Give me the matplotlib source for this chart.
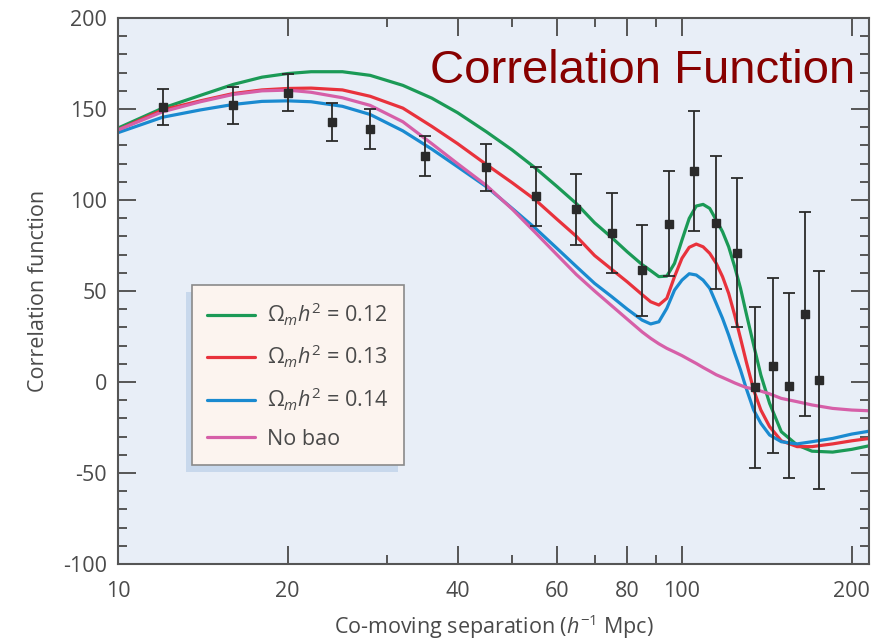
import matplotlib
matplotlib.use('Agg')
import matplotlib.pyplot as plt
from matplotlib.ticker import FixedLocator, NullFormatter

plt.rcParams['font.family'] = ['Open Sans', 'DejaVu Sans']
plt.rcParams['mathtext.fontset'] = 'custom'
plt.rcParams['mathtext.rm'] = 'Open Sans'
plt.rcParams['mathtext.it'] = 'Open Sans:italic'
plt.rcParams['axes.unicode_minus'] = False

# measured points (separation in h^-1 Mpc)
sep = [12, 16, 20, 24, 28, 35, 45, 55, 65, 75, 85, 95, 105, 115, 125, 135, 145, 155, 165, 175]
xi = [151, 152, 159, 143, 139, 124, 118, 102, 95, 82, 61.5, 87, 116, 87.5, 71, -3, 9, -2, 37.5, 1]
xi_err = [10, 10, 10, 10.5, 11, 11, 13, 16, 19.5, 22, 25, 29, 33, 36.5, 41, 44, 48, 51, 56, 60]

# model curves
r_model = [10, 12, 14, 16, 18, 20, 22, 25, 28, 32, 36, 40, 45, 50, 55, 60, 65, 70, 75, 80,
           85, 88, 91, 94, 97, 100, 103, 106, 109, 112, 115, 118, 121, 124, 127, 130, 134,
           138, 143, 150, 160, 170, 185, 200, 215]
xi_012 = [139.5, 150.5, 157.5, 163.5, 167.5, 169.5, 170.5, 170.5, 168.5, 163, 156, 148, 137.5,
          127.5, 117.5, 107.5, 98, 87.5, 79.5, 71.5, 64.5, 61.2, 57.9, 58.2, 65.2, 78, 89.9,
          96.7, 97.6, 95.4, 89, 82.6, 74.3, 63.4, 51.5, 37.7, 20.3, 3.8, -11.7, -27.3, -34.6,
          -38, -38.5, -37, -35]
xi_013 = [138.5, 149.5, 154.5, 158.5, 160.5, 161.3, 161.5, 160.5, 157, 150.5, 140.5, 131, 119.5,
          109.5, 100, 89.5, 80, 69.5, 62, 55, 48, 44.1, 42.3, 46, 57.9, 68, 74, 75.8, 74.3,
          70.7, 65.2, 57.9, 48.7, 36.8, 24, 11.2, -4.4, -15.4, -24.5, -32.3, -35.5, -35.5,
          -34, -32.3, -31]
xi_014 = [137, 145.5, 149.5, 152.5, 154.2, 154.5, 154, 151.5, 147, 138, 128, 118.3, 107.3,
          95.4, 84.4, 73.5, 63.4, 54.2, 47, 40, 34, 31.9, 33.1, 40.5, 50.5, 56, 59.5, 58.8, 56,
          51.5, 43.2, 35, 25.8, 15.8, 6.6, -3.5, -15.4, -22.7, -29.1, -32.8, -34, -32.8, -31,
          -28.6, -27]
xi_nobao = [138.5, 148.5, 154, 158, 160, 160.4, 159.2, 156.2, 152, 143, 131, 120, 108, 95, 82,
            70, 59, 50, 42, 34.5, 27.5, 24, 21, 18.5, 16.5, 14.5, 12.3, 10.2, 8, 6, 4, 2.5, 1,
            -0.5, -1.8, -3, -3.8, -5, -6.5, -9, -10.8, -12.6, -14.5, -15.4, -15.8]

labels = [r'$\Omega_m h^2$ = 0.12', r'$\Omega_m h^2$ = 0.13', r'$\Omega_m h^2$ = 0.14', 'No bao']
colors = ['#1b9a56', '#e8323c', '#1a8ad0', '#d65fa8']

fig = plt.figure(figsize=(8.81, 6.44), dpi=100)
ax = fig.add_axes([0.1339, 0.1242, 0.8525, 0.8478])
ax.set_facecolor('#e8eef7')

for ys, c, lab in zip([xi_012, xi_013, xi_014, xi_nobao], colors, labels):
    ax.plot(r_model, ys, color=c, lw=2.3, label=lab, solid_capstyle='round')

ax.errorbar(sep, xi, yerr=xi_err, fmt='s', color='#2a2a2a', ms=5.5, elinewidth=1.3,
            capsize=4.5, capthick=1.3, zorder=5)

ax.set_xscale('log')
ax.set_xlim(10, 214.6)
ax.set_ylim(-100, 200)

ax.xaxis.set_major_locator(FixedLocator([10, 20, 40, 60, 80, 100, 200]))
ax.xaxis.set_minor_locator(FixedLocator([30, 50, 70, 90]))
ax.set_xticklabels(['10', '20', '40', '60', '80', '100', '200'])
ax.xaxis.set_minor_formatter(NullFormatter())
ax.yaxis.set_major_locator(FixedLocator(range(-100, 201, 50)))
ax.yaxis.set_minor_locator(FixedLocator(range(-100, 201, 10)))

gray = '#555555'
ax.tick_params(which='both', direction='in', top=True, right=True, color=gray,
               width=1.4, labelcolor='#4a4a4a', labelsize=15.5)
ax.tick_params(which='major', length=13)
ax.tick_params(which='minor', length=6.5)
ax.tick_params(axis='y', pad=8)
ax.tick_params(axis='x', pad=12)
for s in ax.spines.values():
    s.set_color(gray)
    s.set_linewidth(1.5)

ax.set_ylabel('Correlation function', fontsize=15.5, color='#4a4a4a', labelpad=10)
ax.set_xlabel('Co-moving separation ($h^{-1}$ Mpc)', fontsize=15.5, color='#4a4a4a', labelpad=8)

leg = ax.legend(loc='upper left', bbox_to_anchor=(0.0985, 0.511), borderaxespad=0,
                fontsize=15.5, frameon=True, fancybox=False, handlelength=2.2,
                handletextpad=0.55, labelspacing=0.72, borderpad=0.72,
                shadow={'ox': -4.3, 'oy': -5, 'facecolor': '#c8d8ec', 'edgecolor': 'none',
                        'alpha': 1})
leg.get_frame().set_facecolor('#fcf4ef')
leg.get_frame().set_edgecolor('#8a8a8a')
leg.get_frame().set_linewidth(1.2)
leg.get_frame().set_alpha(1)
for t in leg.get_texts():
    t.set_color('#4a4a4a')

fig.text(0.488, 0.871, 'Correlation Function', color='#870000', fontsize=34,
         family='Liberation Sans', va='baseline', ha='left')

fig.savefig('out.png', dpi=100, facecolor='white')
